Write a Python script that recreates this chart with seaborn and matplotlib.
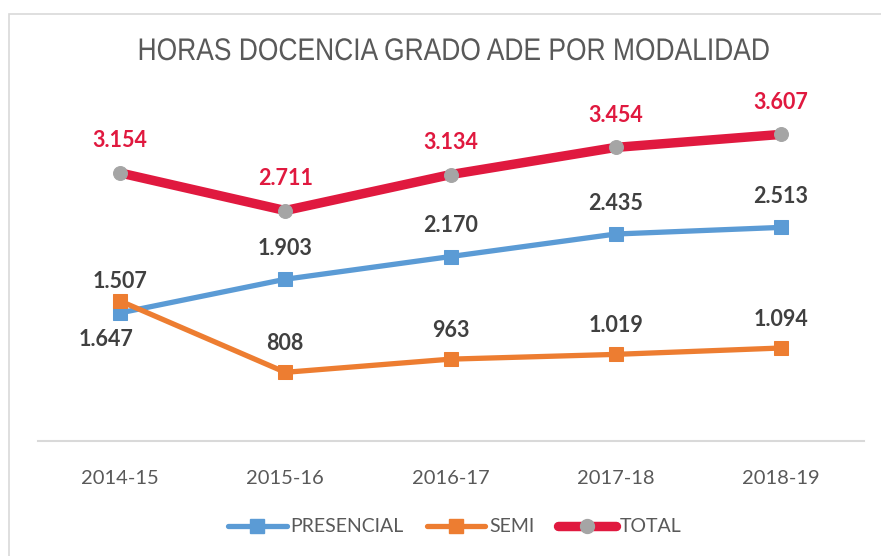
import matplotlib
matplotlib.use("Agg")
import matplotlib.pyplot as plt
from matplotlib import patheffects
from matplotlib.transforms import Affine2D
from matplotlib.lines import Line2D
from matplotlib.patches import Rectangle
import seaborn as sns
import pandas as pd

periods = ["2014-15", "2015-16", "2016-17", "2017-18", "2018-19"]
presencial = [1507, 1903, 2170, 2435, 2513]
semi = [1647, 808, 963, 1019, 1094]
total = [3154, 2711, 3134, 3454, 3607]
series_names = ["PRESENCIAL", "SEMI", "TOTAL"]
title = "HORAS DOCENCIA GRADO ADE POR MODALIDAD"

sns.set_style("white")
plt.rcParams["font.family"] = ["Lato", "DejaVu Sans"]

W, H = 881, 556
fig = plt.figure(figsize=(W / 100, H / 100), dpi=100)
ax = fig.add_axes([37.5 / W, 1 - 441 / H, (863.5 - 37.5) / W, (441 - 101) / H])


class HScale(patheffects.AbstractPathEffect):
    """Condense text horizontally about a pixel x-centre."""
    def __init__(self, sx, cx):
        super().__init__()
        self.sx, self.cx = sx, cx

    def draw_path(self, renderer, gc, tpath, affine, rgbFace=None):
        aff = affine + Affine2D().translate(-self.cx, 0).scale(self.sx, 1).translate(self.cx, 0)
        renderer.draw_path(gc, tpath, aff, rgbFace)


def fmt(v):
    return f"{v:,}".replace(",", ".")

BLUE = "#5B9BD5"
ORANGE = "#ED7D31"
RED = "#E0193F"
GRAY = "#A5A5A5"

df = pd.DataFrame({"periodo": periods * 3,
                   "valor": presencial + semi + total,
                   "serie": [series_names[0]] * 5 + [series_names[1]] * 5 + [series_names[2]] * 5})

styles = {
    "PRESENCIAL": dict(color=BLUE, lw=3.8, marker="s", ms=10, mfc=BLUE, mec=BLUE),
    "SEMI": dict(color=ORANGE, lw=3.8, marker="s", ms=10, mfc=ORANGE, mec=ORANGE),
    "TOTAL": dict(color=RED, lw=6.8, marker="o", ms=10, mfc=GRAY, mec=GRAY),
}
handles = []
for name in series_names:
    sub = df[df["serie"] == name]
    st = styles[name]
    sns.lineplot(data=sub, x="periodo", y="valor", ax=ax, sort=False,
                 color=st["color"], linewidth=st["lw"], marker=st["marker"],
                 markersize=st["ms"], markerfacecolor=st["mfc"],
                 markeredgecolor=st["mec"], legend=False)
    handles.append(Line2D([], [], color=st["color"], lw=st["lw"], marker=st["marker"],
                          markersize=st["ms"], markerfacecolor=st["mfc"],
                          markeredgecolor=st["mec"], solid_capstyle="round"))

lab_kw = dict(textcoords="offset pixels", ha="center", va="center",
              fontsize=15.5, fontweight="bold")
for i, v in enumerate(total):
    ax.annotate(fmt(v), (i, v), xytext=(0, 32), color=RED, **lab_kw)
for i, v in enumerate(presencial):
    ax.annotate(fmt(v), (i, v), xytext=(0, 31), color="#404040", **lab_kw)
for i, v in enumerate(semi):
    off = (-14, -38) if i == 0 else (0, 29)
    ax.annotate(fmt(v), (i, v), xytext=off, color="#404040", **lab_kw)

ax.set_xlim(-0.5, 4.5)
ax.set_ylim(0, 4000)
ax.set_yticks([])
ax.set_xlabel("")
ax.set_ylabel("")
ax.tick_params(axis="x", length=0, pad=21, labelsize=14.5, labelcolor="#595959")
for s in ["top", "right", "left"]:
    ax.spines[s].set_visible(False)
ax.spines["bottom"].set_color("#D9D9D9")
ax.spines["bottom"].set_linewidth(1.5)

cx = 454
fig.text(cx / W, 1 - 52 / H, title, ha="center", va="center", fontsize=22.5,
         color="#595959", family=["Liberation Sans", "DejaVu Sans"],
         path_effects=[HScale(0.845, cx)])

leg = fig.legend(handles, series_names, loc="center", bbox_to_anchor=(455 / W, 1 - 527 / H),
                 ncol=3, frameon=False, fontsize=14, handlelength=3.0, handletextpad=0.2,
                 columnspacing=1.2, labelcolor="#595959", numpoints=1)

fig.add_artist(Rectangle((8.5 / W, -0.1), 1.0, 1 - 13.5 / H + 0.1, transform=fig.transFigure,
                         fill=False, ec="#D9D9D9", lw=1.2))

fig.savefig("out.png", dpi=100)
